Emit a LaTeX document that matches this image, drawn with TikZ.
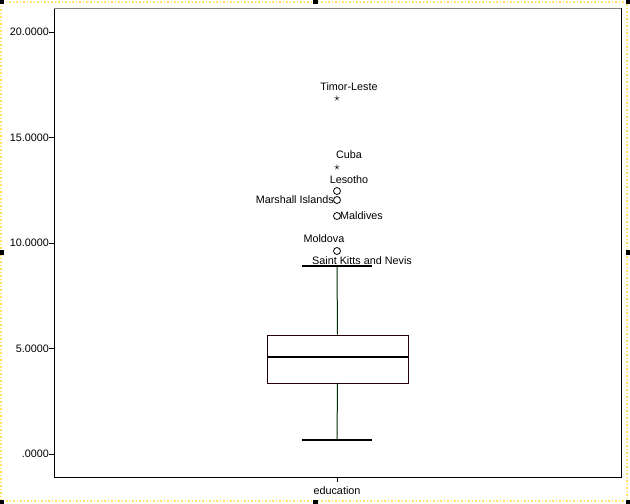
\documentclass[tikz,border=0pt]{standalone}
\usepackage{fontspec}
\setmainfont{Liberation Sans}
\begin{document}
\begin{tikzpicture}[x=1pt,y=-1pt,
  lbl/.style={font=\fontsize{10.8}{12}\selectfont,inner sep=0pt},
  handle/.style={fill=black,minimum size=5pt,inner sep=0pt},
  outc/.style={circle,draw=black,line width=0.8pt,minimum size=7pt,inner sep=0pt},
  star/.style={font=\fontsize{13}{13}\selectfont,inner sep=0pt},
  whisk/.style={draw=black!70!green!60!black,line width=1pt},
  boxl/.style={draw=black!80!purple,line width=0.8pt}]
\useasboundingbox (0,0) rectangle (630,504);
\fill[white] (0,0) rectangle (630,504);
\draw[yellow!70!orange!60,line width=1.5pt,dotted] (1,2) rectangle (627,501);
\foreach \x/\y [count=\i] in {1/1,315/1,628/1,1/252,628/252,1/502,315/502,628/502}
  \node[handle] (h\i) at (\x,\y) {};
\draw[line width=0.8pt] (54,8) rectangle (621,477);
\draw[gray,line width=1.2pt] (54,8.5) -- (621,8.5);
% y ticks
\foreach \v/\yy [count=\i] in {20.0000/32,15.0000/137.5,10.0000/243,5.0000/348.5,.0000/454}{
  \draw (49,\yy) -- (54,\yy);
  \node[lbl,anchor=east] (t\i) at (49,\yy) {\v};
}
\draw (337,477) -- (337,482);
\node[lbl] (xl) at (337,491) {education};
% box plot
\coordinate (wt) at (337,266);
\coordinate (wb) at (337,440);
\node[boxl,minimum width=141pt,minimum height=48pt,inner sep=0pt] (box) at (337.5,359) {};
\draw[line width=1.8pt] (267,357) -- (408,357);
\draw[whisk] (box.north) -- (wt);
\draw[whisk] (box.south) -- (wb);
\draw[line width=1.3pt] (302,266) -- (372,266);
\draw[line width=1.3pt] (302,440) -- (372,440);
% outliers
\node[star] (s1) at (337,99) {$\star$};
\node[star] (s2) at (337,168) {$\star$};
\node[outc] (c1) at (337,191) {};
\node[outc] (c2) at (337,200) {};
\node[outc] (c3) at (337,216) {};
\node[outc] (c4) at (337,251) {};
\node[lbl] at (349,87) {Timor-Leste};
\node[lbl] at (349,155) {Cuba};
\node[lbl] at (349,180) {Lesotho};
\node[lbl,anchor=east] at (334,200) {Marshall Islands};
\node[lbl,anchor=west] at (340,216) {Maldives};
\node[lbl] at (324,239) {Moldova};
\node[lbl] at (362,261) {Saint Kitts and Nevis};
\end{tikzpicture}
\end{document}
